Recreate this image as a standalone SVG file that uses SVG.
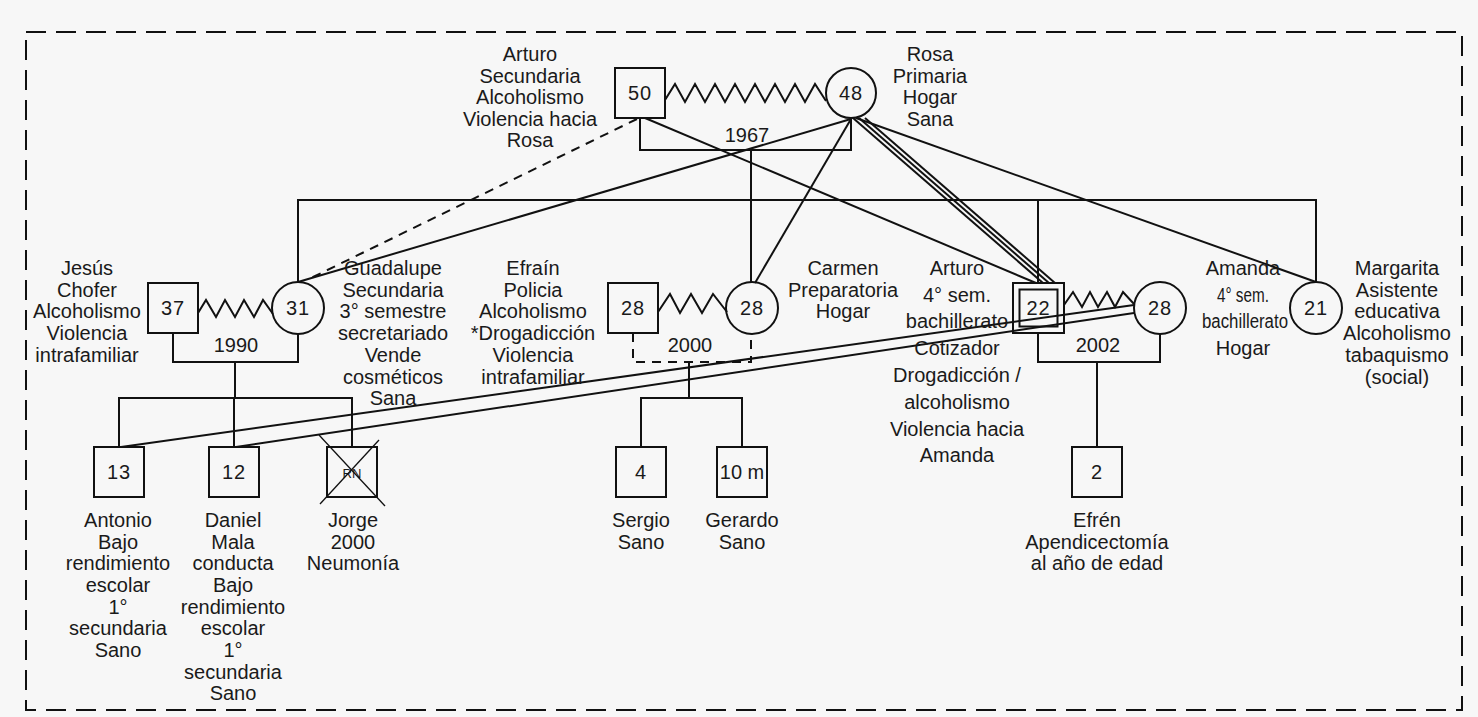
<svg xmlns="http://www.w3.org/2000/svg" width="1478" height="717" viewBox="0 0 1478 717">
<style>
.ln{stroke:#111;stroke-width:2;fill:none}
.thin{stroke:#111;stroke-width:1.3;fill:none}
.dsh{stroke-dasharray:9 7}
.nd{fill:none;stroke:#111;stroke-width:2}
.t{font-family:"Liberation Sans",Arial,sans-serif;font-size:20px;fill:#1a1a1a;text-anchor:middle}
.n{font-family:"Liberation Sans",Arial,sans-serif;font-size:20px;fill:#1a1a1a;text-anchor:middle;letter-spacing:1px}
.s{font-family:"Liberation Sans",Arial,sans-serif;font-size:13px;fill:#1a1a1a;text-anchor:middle}
</style>
<rect width="1478" height="717" fill="#f7f7f7"/>
<rect x="26" y="32" width="1436" height="678" fill="none" stroke="#111" stroke-width="2" stroke-dasharray="20 10"/>

<g id="connectors">
  <!-- marriages -->
  <polyline class="ln" points="640,118 640,150 851,150 851,119"/>
  <polyline class="ln" points="173,333 173,362 298,362 298,334"/>
  <polyline class="ln dsh" points="633,333 633,362 751,362 751,334"/>
  <polyline class="ln" points="1038,333 1038,362 1160,362 1160,334"/>
  <!-- zigzags -->
  <polyline class="ln" points="665,100 675,84 685,102 695,84 705,102 715,84 725,102 735,84 745,102 755,84 765,102 775,84 785,102 795,84 805,102 815,84 826,101"/>
  <polyline class="ln" points="198,313 206,300 216,317 225,300 235,317 244,300 254,317 263,300 273,314"/>
  <polyline class="ln" points="658,312 670,294 680,313 691,294 702,313 713,294 727,312"/>
  <polyline class="ln" points="1064,305 1073,292 1082,307 1090,292 1098,307 1107,292 1115,307 1123,292 1134,304"/>
  <!-- descent lines -->
  <line class="ln" x1="751" y1="150" x2="751" y2="282"/>
  <polyline class="ln" points="298,282 298,200 1316,200 1316,282"/>
  <line class="ln" x1="1038" y1="200" x2="1038" y2="283"/>
  <line class="ln" x1="235" y1="362" x2="235" y2="398"/>
  <polyline class="ln" points="119,447 119,398 352,398 352,447"/>
  <line class="ln" x1="234" y1="398" x2="234" y2="447"/>
  <line class="ln" x1="689" y1="362" x2="689" y2="398"/>
  <polyline class="ln" points="641,447 641,398 742,398 742,447"/>
  <line class="ln" x1="1097" y1="362" x2="1097" y2="447"/>
  <!-- relationship lines -->
  <line class="ln dsh" x1="637" y1="119" x2="311" y2="278"/>
  <line class="ln" x1="851" y1="119" x2="298" y2="282"/>
  <line class="ln" x1="851" y1="119" x2="755" y2="283"/>
  <line class="ln" x1="853" y1="118" x2="1043" y2="283"/>
  <line class="ln" x1="859" y1="118" x2="1049" y2="283"/>
  <line class="ln" x1="865" y1="118" x2="1055" y2="283"/>
  <line class="ln" x1="645" y1="118" x2="1036" y2="283"/>
  <line class="ln" x1="856" y1="118" x2="1316" y2="282"/>
  <line class="ln" x1="121" y1="447" x2="1134" y2="305"/>
  <line class="ln" x1="236" y1="447" x2="1134" y2="313"/>
</g>

<g id="n-arturo-padre">
  <rect class="nd" x="615" y="68" width="50" height="50"/>
  <text class="n" x="640" y="100">50</text>
  <text class="t" x="530"><tspan x="530" y="61">Arturo</tspan><tspan x="530" y="82.5">Secundaria</tspan><tspan x="530" y="104">Alcoholismo</tspan><tspan x="530" y="125.5">Violencia hacia</tspan><tspan x="530" y="147">Rosa</tspan></text>
</g>
<g id="n-rosa">
  <circle class="nd" cx="851" cy="93" r="25"/>
  <text class="n" x="851" y="100">48</text>
  <text class="t"><tspan x="930" y="61">Rosa</tspan><tspan x="930" y="82.5">Primaria</tspan><tspan x="930" y="104">Hogar</tspan><tspan x="930" y="125.5">Sana</tspan></text>
  <text class="t" x="747" y="142">1967</text>
</g>
<g id="n-jesus">
  <rect class="nd" x="148" y="283" width="50" height="50"/>
  <text class="n" x="173" y="315">37</text>
  <text class="t"><tspan x="87" y="275">Jesús</tspan><tspan x="87" y="297">Chofer</tspan><tspan x="87" y="318">Alcoholismo</tspan><tspan x="87" y="340">Violencia</tspan><tspan x="87" y="362">intrafamiliar</tspan></text>
  <text class="t" x="236" y="352">1990</text>
</g>
<g id="n-guadalupe">
  <circle class="nd" cx="298" cy="308" r="26"/>
  <text class="n" x="298" y="315">31</text>
  <text class="t"><tspan x="393" y="275">Guadalupe</tspan><tspan x="393" y="297">Secundaria</tspan><tspan x="393" y="318">3° semestre</tspan><tspan x="393" y="340">secretariado</tspan><tspan x="393" y="362">Vende</tspan><tspan x="393" y="384">cosméticos</tspan><tspan x="393" y="405">Sana</tspan></text>
</g>
<g id="n-efrain">
  <rect class="nd" x="608" y="283" width="50" height="50"/>
  <text class="n" x="633" y="315">28</text>
  <text class="t"><tspan x="533" y="275">Efraín</tspan><tspan x="533" y="297">Policia</tspan><tspan x="533" y="318">Alcoholismo</tspan><tspan x="533" y="340">*Drogadicción</tspan><tspan x="533" y="362">Violencia</tspan><tspan x="533" y="384">intrafamiliar</tspan></text>
  <text class="t" x="690" y="352">2000</text>
</g>
<g id="n-carmen">
  <circle class="nd" cx="752" cy="308" r="26"/>
  <text class="n" x="752" y="315">28</text>
  <text class="t"><tspan x="843" y="275">Carmen</tspan><tspan x="843" y="297">Preparatoria</tspan><tspan x="843" y="318">Hogar</tspan></text>
</g>
<g id="n-arturo-hijo">
  <rect class="nd" x="1013" y="283" width="51" height="50"/>
  <rect class="nd" x="1019.5" y="289.5" width="38" height="37"/>
  <text class="n" x="1038.5" y="315">22</text>
  <text class="t"><tspan x="957" y="275">Arturo</tspan><tspan x="957" y="302">4° sem.</tspan><tspan x="957" y="328">bachillerato</tspan><tspan x="957" y="355">Cotizador</tspan><tspan x="957" y="382">Drogadicción /</tspan><tspan x="957" y="409">alcoholismo</tspan><tspan x="957" y="436">Violencia hacia</tspan><tspan x="957" y="462">Amanda</tspan></text>
  <text class="t" x="1098" y="352">2002</text>
</g>
<g id="n-amanda">
  <circle class="nd" cx="1160" cy="308" r="26"/>
  <text class="n" x="1160" y="315">28</text>
  <text class="t"><tspan x="1243" y="275">Amanda</tspan></text>
  <text class="t" x="1243" y="302" textLength="52" lengthAdjust="spacingAndGlyphs">4° sem.</text>
  <text class="t" x="1245" y="328" textLength="86" lengthAdjust="spacingAndGlyphs">bachillerato</text>
  <text class="t" x="1243" y="355">Hogar</text>
</g>
<g id="n-margarita">
  <circle class="nd" cx="1316" cy="308" r="26"/>
  <text class="n" x="1316" y="315">21</text>
  <text class="t"><tspan x="1397" y="275">Margarita</tspan><tspan x="1397" y="297">Asistente</tspan><tspan x="1397" y="318">educativa</tspan><tspan x="1397" y="340">Alcoholismo</tspan><tspan x="1397" y="362">tabaquismo</tspan><tspan x="1397" y="384">(social)</tspan></text>
</g>
<g id="n-antonio">
  <rect class="nd" x="94" y="447" width="50" height="50"/>
  <text class="n" x="119" y="479">13</text>
  <text class="t"><tspan x="118" y="527">Antonio</tspan><tspan x="118" y="549">Bajo</tspan><tspan x="118" y="570">rendimiento</tspan><tspan x="118" y="592">escolar</tspan><tspan x="118" y="614">1°</tspan><tspan x="118" y="635">secundaria</tspan><tspan x="118" y="657">Sano</tspan></text>
</g>
<g id="n-daniel">
  <rect class="nd" x="209" y="447" width="50" height="50"/>
  <text class="n" x="234" y="479">12</text>
  <text class="t"><tspan x="233" y="527">Daniel</tspan><tspan x="233" y="549">Mala</tspan><tspan x="233" y="570">conducta</tspan><tspan x="233" y="592">Bajo</tspan><tspan x="233" y="614">rendimiento</tspan><tspan x="233" y="635">escolar</tspan><tspan x="233" y="657">1°</tspan><tspan x="233" y="679">secundaria</tspan><tspan x="233" y="700">Sano</tspan></text>
</g>
<g id="n-jorge">
  <rect class="nd" x="327" y="447" width="50" height="50"/>
  <text class="s" x="352" y="478">RN</text>
  <line class="thin" x1="319" y1="435" x2="385" y2="506"/>
  <line class="thin" x1="379" y1="440" x2="320" y2="504"/>
  <text class="t"><tspan x="353" y="527">Jorge</tspan><tspan x="353" y="549">2000</tspan><tspan x="353" y="570">Neumonía</tspan></text>
</g>
<g id="n-sergio">
  <rect class="nd" x="616" y="447" width="50" height="50"/>
  <text class="n" x="641" y="479">4</text>
  <text class="t"><tspan x="641" y="527">Sergio</tspan><tspan x="641" y="549">Sano</tspan></text>
</g>
<g id="n-gerardo">
  <rect class="nd" x="717" y="447" width="50" height="50"/>
  <text class="t" x="742" y="479">10 m</text>
  <text class="t"><tspan x="742" y="527">Gerardo</tspan><tspan x="742" y="549">Sano</tspan></text>
</g>
<g id="n-efren">
  <rect class="nd" x="1072" y="447" width="50" height="50"/>
  <text class="n" x="1097" y="479">2</text>
  <text class="t"><tspan x="1097" y="527">Efrén</tspan><tspan x="1097" y="549">Apendicectomía</tspan><tspan x="1097" y="570">al año de edad</tspan></text>
</g>
</svg>
